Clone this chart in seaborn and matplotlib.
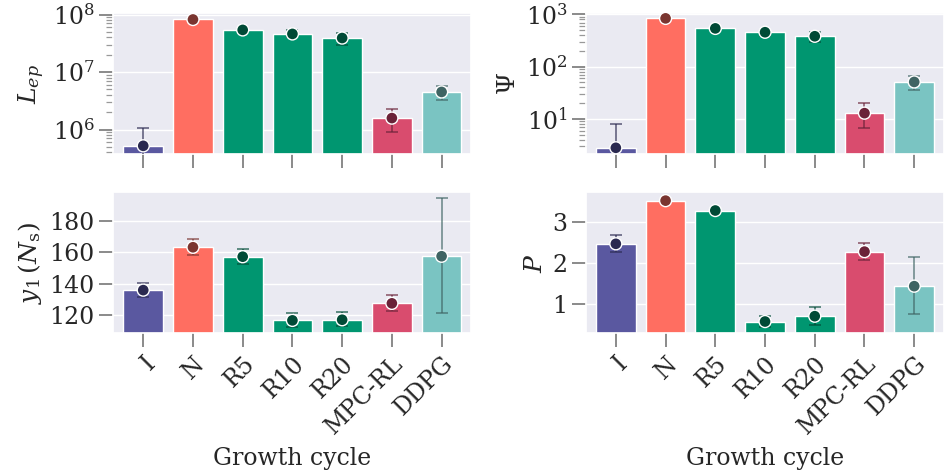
import numpy as np
import pandas as pd
import matplotlib
matplotlib.use("Agg")
import matplotlib.pyplot as plt
import seaborn as sns

# categories and colours
cycles = ["I", "N", "R5", "R10", "R20", "MPC-RL", "DDPG"]
bar_colors = ["#5a58a0", "#ff6e61", "#009670", "#009670", "#009670", "#d94c6e", "#7ac4c2"]
dot_colors = ["#2a2950", "#7a3530", "#004a36", "#004a36", "#004a36", "#6a2238", "#3f6463"]

# episode loss L_ep
lep_mean = [5.2e5, 8.2e7, 5.4e7, 4.6e7, 3.9e7, 1.58e6, 4.5e6]
lep_low = [2.0e5, 8.0e7, 5.3e7, 4.0e7, 3.0e7, 0.92e6, 3.3e6]
lep_high = [1.08e6, 8.4e7, 5.5e7, 5.3e7, 4.7e7, 2.25e6, 5.7e6]

# Psi
psi_mean = [2.8, 840, 540, 456, 382, 12.9, 51]
psi_low = [1.0, 830, 530, 390, 290, 6.6, 36]
psi_high = [8.0, 850, 550, 500, 470, 20, 66]

# y1 (N_s)
y1_mean = [136.0, 163.2, 157.2, 116.8, 117.2, 127.6, 157.5]
y1_low = [131.5, 158.5, 152.5, 112.7, 113.2, 122.9, 121.3]
y1_high = [140.8, 168.3, 162.3, 121.3, 121.9, 132.7, 194.6]

# P
p_mean = [2.47, 3.52, 3.28, 0.58, 0.71, 2.28, 1.44]
p_low = [2.28, 3.50, 3.25, 0.45, 0.49, 2.07, 0.76]
p_high = [2.68, 3.54, 3.31, 0.72, 0.93, 2.50, 2.14]

sns.set_theme(style="darkgrid")
plt.rcParams["font.family"] = ["DejaVu Serif"]
plt.rcParams["mathtext.fontset"] = "dejavuserif"


def draw_panel(ax, mean, low, high, ylabel, log=False, ylim=None, show_x=False):
    df = pd.DataFrame({"cycle": cycles, "value": mean})
    sns.barplot(data=df, x="cycle", y="value", hue="cycle", palette=bar_colors,
                legend=False, errorbar=None, width=0.8, saturation=1, ax=ax, zorder=2)
    x = np.arange(len(cycles))
    mean_a = np.array(mean)
    yerr = np.vstack([mean_a - np.array(low), np.array(high) - mean_a])
    for i in range(len(cycles)):
        ax.errorbar(x[i], mean_a[i], yerr=yerr[:, i:i + 1], color=dot_colors[i],
                    alpha=0.65, capsize=4, elinewidth=1.3, capthick=1.3, zorder=3)
    ax.scatter(x, mean_a, s=75, c=dot_colors, edgecolors="white", linewidths=1.0, zorder=4)
    if log:
        ax.set_yscale("log")
    if ylim:
        ax.set_ylim(*ylim)
    ax.set_xlim(-0.6, 6.6)
    ax.set_ylabel(ylabel, fontsize=18)
    ax.set_xlabel("Growth cycle" if show_x else "", fontsize=17, labelpad=6)
    ax.tick_params(axis="both", which="major", length=10, width=1.2, color="#777777",
                   labelsize=17, bottom=True, left=True)
    ax.tick_params(axis="y", which="minor", length=5, width=0.9, color="#999999", left=True)
    ax.set_xticks(x)
    if show_x:
        ax.set_xticklabels(cycles, rotation=45, ha="right", rotation_mode="anchor")
    else:
        ax.set_xticklabels([])


fig, axes = plt.subplots(2, 2, figsize=(9.45, 4.75), dpi=100)
fig.subplots_adjust(left=0.12, right=0.999, top=0.972, bottom=0.298, wspace=0.32, hspace=0.27)

draw_panel(axes[0, 0], lep_mean, lep_low, lep_high, r"$L_{ep}$", log=True, ylim=(3.7e5, 1.05e8))
draw_panel(axes[0, 1], psi_mean, psi_low, psi_high, r"$\Psi$", log=True, ylim=(2.1, 1050))
draw_panel(axes[1, 0], y1_mean, y1_low, y1_high, r"$y_1\,(N_\mathrm{s})$", ylim=(108.5, 198), show_x=True)
axes[1, 0].set_yticks([120, 140, 160, 180])
draw_panel(axes[1, 1], p_mean, p_low, p_high, r"$P$", ylim=(0.29, 3.72), show_x=True)
axes[1, 1].set_yticks([1, 2, 3])

fig.savefig("out.png", dpi=100)
